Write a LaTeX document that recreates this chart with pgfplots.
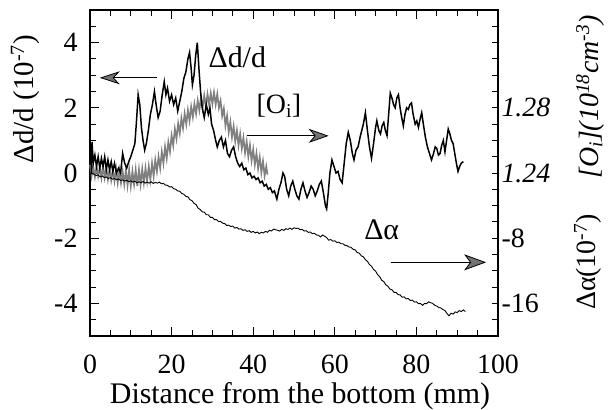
\documentclass[border=0pt]{standalone}
\usepackage{fontspec}
\setmainfont{Liberation Serif}
\usepackage{pgfplots}
\pgfplotsset{compat=1.18}
\usetikzlibrary{arrows.meta}
\definecolor{oigray}{gray}{0.5}
\begin{document}
\begin{tikzpicture}
\path[use as bounding box] (-90bp,-74bp) rectangle (523bp,336bp);
\begin{axis}[
 scale only axis, width=408bp, height=326bp,
 xmin=0, xmax=100, ymin=-5, ymax=5,
 xtick={0,20,40,60,80,100}, xticklabels={0,20,40,60,80,100},
 ytick={-4,-2,0,2,4}, yticklabels={-4,-2,0,2,4},
 minor x tick num=3, minor ytick={-4.5,-4,...,4.5},
 ytick pos=left, tick align=inside,
 major tick length=9bp, minor tick length=6bp,
 tick style={black, line width=0.8pt},
 axis line style={line width=1.3pt},
 ticklabel style={font=\fontsize{28}{30}\selectfont},
 xticklabel style={yshift=-15bp},
 yticklabel style={xshift=-9bp},
 clip=false,
]
% [O_i]
\addplot[oigray, line width=1.7pt] coordinates {
(0.0,0.25) (0.4,-0.1) (0.8,0.2) (1.2,-0.12) (1.6,0.22) (2.0,-0.1) (2.4,0.18) (2.8,-0.15) (3.2,0.2) (3.6,-0.15)
(4.0,0.15) (4.4,-0.2) (4.8,0.12) (5.2,-0.22) (5.6,0.1) (6.0,-0.25) (6.4,0.12) (6.8,-0.3) (7.2,0.08) (7.6,-0.3)
(8.0,0.05) (8.4,-0.35) (8.8,0.08) (9.2,-0.38) (9.6,0.1) (10.0,-0.4) (10.4,0.05) (10.8,-0.35) (11.2,0.1) (11.6,-0.4)
(12.0,0.1) (12.4,-0.35) (12.8,0.12) (13.2,-0.3) (13.6,0.15) (14.0,-0.25) (14.4,0.2) (14.8,-0.2) (15.2,0.3) (15.6,-0.1)
(16.0,0.4) (16.4,0.05) (16.8,0.5) (17.2,0.15) (17.6,0.65) (18.0,0.3) (18.4,0.8) (18.8,0.45) (19.2,0.95) (19.6,0.65)
(20.0,1.15) (20.4,0.85) (20.8,1.35) (21.2,1.05) (21.6,1.52) (22.0,1.22) (22.4,1.68) (22.8,1.38) (23.2,1.82) (23.6,1.5)
(24.0,1.93) (24.4,1.6) (24.8,2.03) (25.2,1.72) (25.6,2.12) (26.0,1.82) (26.4,2.22) (26.8,1.92) (27.2,2.32) (27.6,2.0)
(28.0,2.38) (28.4,2.05) (28.8,2.42) (29.2,2.1) (29.6,2.45) (30.0,2.12) (30.4,2.47) (30.8,2.1) (31.2,2.42) (31.6,2.0)
(32.0,2.22) (32.4,1.75) (32.8,1.98) (33.2,1.45) (33.6,1.75) (34.0,1.25) (34.4,1.57) (34.8,1.1) (35.2,1.43) (35.6,0.97)
(36.0,1.3) (36.4,0.85) (36.8,1.2) (37.2,0.75) (37.6,1.08) (38.0,0.62) (38.4,0.96) (38.8,0.5) (39.2,0.85) (39.6,0.38)
(40.0,0.72) (40.4,0.26) (40.8,0.6) (41.2,0.14) (41.6,0.48) (42.0,0.02) (42.4,0.36) (42.8,-0.08) (43.2,0.2) (43.5,-0.05)
};
% Delta d/d
\addplot[black, line width=1.5pt] coordinates {
(0.3,0.0) (0.5,0.95) (0.8,0.3) (1.2,0.55) (1.6,0.2) (2.0,0.5) (2.4,0.15) (2.8,0.45) (3.2,0.2) (3.6,0.5)
(4.0,0.1) (4.4,0.4) (4.8,0.1) (5.2,0.35) (5.6,0.05) (6.0,0.3) (6.5,0.0) (7.0,0.15) (7.5,0.0) (8.0,0.6)
(8.5,0.3) (9.0,0.15) (9.5,0.35) (10.0,0.5) (10.5,0.7) (11.0,0.9) (11.4,1.6) (11.8,2.4) (12.2,2.1) (12.6,1.4)
(13.0,1.0) (13.4,0.7) (13.8,0.9) (14.3,1.3) (14.8,1.8) (15.3,2.1) (15.8,2.5) (16.2,2.1) (16.7,1.7) (17.2,1.9)
(17.7,2.4) (18.2,2.8) (18.6,2.4) (19.0,2.6) (19.5,2.2) (20.0,2.4) (20.5,2.1) (21.0,2.3) (21.5,1.9) (22.0,2.2)
(22.5,2.5) (23.0,2.9) (23.5,3.1) (24.0,3.5) (24.4,3.7) (24.8,3.2) (25.1,2.7) (25.5,3.0) (25.9,3.6) (26.3,4.0)
(26.7,3.2) (27.1,2.5) (27.5,2.0) (28.0,1.7) (28.5,2.1) (29.0,1.8) (29.4,2.0) (29.8,1.5) (30.3,1.3) (30.8,1.0)
(31.2,0.8) (31.7,1.0) (32.2,1.1) (32.7,0.8) (33.2,1.0) (33.7,0.6) (34.2,0.5) (34.7,0.7) (35.2,0.8) (35.7,0.5)
(36.2,0.3) (36.7,0.2) (37.2,0.3) (37.7,0.1) (38.2,0.15) (38.7,-0.05) (39.2,0.0) (39.7,-0.15) (40.2,-0.1) (40.7,-0.2)
(41.2,-0.15) (41.7,-0.3) (42.2,-0.25) (42.7,-0.4) (43.2,-0.35) (43.7,-0.5) (44.2,-0.45) (44.7,-0.6) (45.2,-0.55) (45.8,-0.8)
(46.3,-0.5) (46.8,-0.3) (47.3,0.0) (47.7,-0.1) (48.2,-0.5) (48.7,-0.7) (49.2,-0.4) (49.7,-0.25) (50.2,-0.5) (50.7,-0.7)
(51.2,-0.8) (51.7,-0.5) (52.2,-0.3) (52.7,-0.55) (53.2,-0.75) (53.7,-0.6) (54.2,-0.4) (54.7,-0.5) (55.2,-0.7) (55.7,-0.55)
(56.2,-0.35) (56.7,-0.25) (57.2,-0.6) (57.7,-1.0) (58.0,-1.1) (58.4,-0.6) (58.8,0.0) (59.3,0.4) (59.8,0.2) (60.3,0.0)
(60.8,0.05) (61.3,-0.2) (61.8,-0.3) (62.3,0.3) (62.8,0.9) (63.3,1.25) (63.8,1.0) (64.3,0.6) (64.7,0.4) (65.2,0.7)
(65.7,0.8) (66.2,1.1) (66.6,1.3) (67.0,1.5) (67.5,1.85) (68.0,1.3) (68.5,0.8) (69.0,0.45) (69.5,0.9) (70.0,1.4)
(70.3,1.6) (70.8,1.3) (71.2,1.2) (71.6,1.45) (72.0,1.55) (72.4,1.3) (72.8,1.15) (73.2,1.8) (73.6,2.45) (74.0,2.3)
(74.4,2.1) (74.8,2.0) (75.2,2.3) (75.6,2.4) (76.0,2.0) (76.4,1.7) (76.8,1.45) (77.2,1.8) (77.6,2.0) (78.0,1.95)
(78.4,2.1) (78.8,2.15) (79.2,1.8) (79.7,1.5) (80.1,1.6) (80.5,1.4) (80.9,1.65) (81.3,1.85) (81.7,1.5) (82.2,1.1)
(82.7,0.8) (83.2,0.6) (83.7,0.4) (84.2,0.6) (84.6,0.8) (85.0,0.75) (85.4,0.55) (85.8,0.6) (86.2,0.85) (86.6,1.0)
(87.0,0.65) (87.4,1.0) (87.8,1.35) (88.2,1.2) (88.6,1.0) (89.0,0.9) (89.4,0.6) (89.8,0.3) (90.2,0.05) (90.6,0.2)
(91.0,0.3) (91.5,0.35)
};
% Delta alpha
\addplot[black, line width=0.9pt] coordinates {
(0,-0.05) (0.5,0.0) (1,-0.04) (1.5,-0.08) (2,-0.06) (2.5,-0.12) (3,-0.09) (3.5,-0.14) (4,-0.12) (4.5,-0.17)
(5,-0.14) (5.5,-0.19) (6,-0.17) (6.5,-0.21) (7,-0.18) (7.5,-0.23) (8,-0.21) (8.5,-0.25) (9,-0.22) (9.5,-0.27)
(10,-0.24) (10.5,-0.28) (11,-0.25) (11.5,-0.3) (12,-0.27) (12.5,-0.3) (13,-0.26) (13.5,-0.31) (14,-0.28) (14.5,-0.31)
(15,-0.27) (15.5,-0.32) (16,-0.29) (16.5,-0.31) (17,-0.28) (17.5,-0.33) (18,-0.32) (18.5,-0.37) (19,-0.38) (19.5,-0.43)
(20,-0.42) (20.5,-0.48) (21,-0.5) (21.5,-0.55) (22,-0.56) (22.5,-0.63) (23,-0.65) (23.5,-0.72) (24,-0.73) (24.5,-0.82)
(25,-0.85) (25.5,-0.93) (26,-0.97) (26.5,-1.08) (27,-1.12) (27.5,-1.19) (28,-1.2) (28.5,-1.28) (29,-1.28) (29.5,-1.36)
(30,-1.36) (30.5,-1.43) (31,-1.43) (31.5,-1.49) (32,-1.48) (32.5,-1.54) (33,-1.55) (33.5,-1.61) (34,-1.6) (34.5,-1.64)
(35,-1.63) (35.5,-1.69) (36,-1.67) (36.5,-1.72) (37,-1.71) (37.5,-1.76) (38,-1.74) (38.5,-1.79) (39,-1.77) (39.5,-1.82)
(40,-1.79) (40.5,-1.84) (41,-1.81) (41.5,-1.86) (42,-1.82) (42.5,-1.84) (43,-1.79) (43.5,-1.82) (44,-1.76) (44.5,-1.78)
(45,-1.72) (45.5,-1.74) (46,-1.76) (46.5,-1.78) (47,-1.73) (47.5,-1.76) (48,-1.71) (48.5,-1.73) (49,-1.69) (49.5,-1.73)
(50,-1.68) (50.5,-1.7) (51,-1.69) (51.5,-1.74) (52,-1.73) (52.5,-1.78) (53,-1.77) (53.5,-1.82) (54,-1.81) (54.5,-1.86)
(55,-1.85) (55.5,-1.9) (56,-1.91) (56.5,-1.96) (57,-1.9) (57.5,-1.94) (58,-1.98) (58.5,-2.06) (59,-2.04) (59.5,-2.09)
(60,-2.08) (60.5,-2.13) (61,-2.12) (61.5,-2.17) (62,-2.17) (62.5,-2.22) (63,-2.23) (63.5,-2.27) (64,-2.28) (64.5,-2.34)
(65,-2.36) (65.5,-2.44) (66,-2.46) (66.5,-2.54) (67,-2.57) (67.5,-2.66) (68,-2.71) (68.5,-2.81) (69,-2.86) (69.5,-2.96)
(70,-3.01) (70.5,-3.12) (71,-3.18) (71.5,-3.29) (72,-3.33) (72.5,-3.43) (73,-3.47) (73.5,-3.56) (74,-3.58) (74.5,-3.66)
(75,-3.66) (75.5,-3.73) (76,-3.74) (76.5,-3.81) (77,-3.8) (77.5,-3.86) (78,-3.85) (78.5,-3.91) (79,-3.9) (79.5,-3.96)
(80,-3.95) (80.5,-4.01) (81,-4.0) (81.5,-4.06) (82,-4.0) (82.5,-4.01) (83,-3.95) (83.5,-3.98) (84,-4.0) (84.5,-4.06)
(85,-4.08) (85.5,-4.13) (86,-4.14) (86.5,-4.19) (87,-4.22) (87.5,-4.31) (88,-4.38) (88.5,-4.3) (89,-4.33) (89.5,-4.26)
(90,-4.28) (90.5,-4.22) (91,-4.25) (91.5,-4.2) (92,-4.25)
};
% annotations
\node[font=\fontsize{30}{32}\selectfont] at (axis cs:36.1,3.54) {Δd/d};
\node[font=\fontsize{28}{30}\selectfont] at (axis cs:46.3,2.06) {[O\textsubscript{i}]};
\node[font=\fontsize{30}{32}\selectfont] at (axis cs:71.5,-1.75) {Δα};
\draw[line width=0.8pt, -{Stealth[length=20bp,width=13bp,inset=6bp,fill=black!55]}] (axis cs:16.3,2.92) -- (axis cs:2.4,2.92);
\draw[line width=0.8pt, -{Stealth[length=20bp,width=14bp,inset=6bp,fill=black!55]}] (axis cs:38.5,1.14) -- (axis cs:58.5,1.14);
\draw[line width=0.8pt, -{Stealth[length=22bp,width=16bp,inset=6bp,fill=black!55]}] (axis cs:73.7,-2.74) -- (axis cs:97.1,-2.74);
\end{axis}
\begin{axis}[
 scale only axis, width=408bp, height=326bp,
 xmin=0, xmax=100, ymin=-5, ymax=5,
 axis x line=none, axis y line*=right,
 ytick={-4,-2,0,2,4}, yticklabels={-16,-8,\textit{1.24},\textit{1.28},{}},
 minor ytick={-4.5,-4,...,4.5},
 tick align=inside,
 major tick length=6bp, minor tick length=6bp,
 tick style={black, line width=0.8pt},
 axis line style={line width=1.3pt},
 ticklabel style={font=\fontsize{28}{30}\selectfont},
 yticklabel style={xshift=0bp},
]
\end{axis}
\node[rotate=90, font=\fontsize{29}{31}\selectfont] at (-65bp,237bp) {Δd/d (10\textsuperscript{-7})};
\node[anchor=base, font=\fontsize{30}{32}\selectfont] at (210bp,-67bp) {Distance from the bottom (mm)};
\node[rotate=90, font=\fontsize{28}{30}\selectfont\itshape] at (500bp,239bp) {[O\textsubscript{i}](10\textsuperscript{18}cm\textsuperscript{-3})};
\node[rotate=90, font=\fontsize{28}{30}\selectfont] at (498bp,74bp) {Δα(10\textsuperscript{-7})};
\end{tikzpicture}
\end{document}
